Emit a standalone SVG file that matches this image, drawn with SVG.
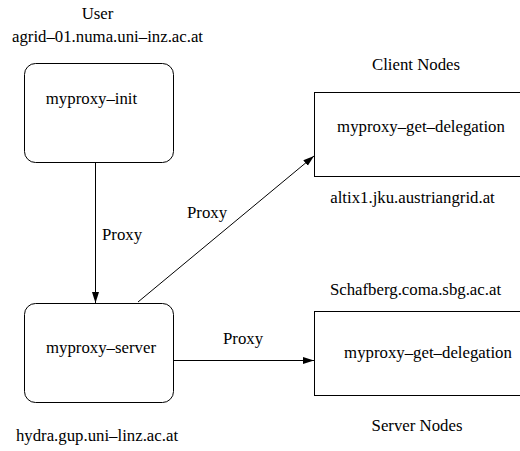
<svg xmlns="http://www.w3.org/2000/svg" width="520" height="451" viewBox="0 0 520 451">
  <style>
    text { font-family: "Liberation Serif", "Times New Roman", serif; font-size: 16.8px; fill: #000; }
    .box { fill: #fff; stroke: #000; stroke-width: 1; }
    .edge { fill: none; stroke: #000; stroke-width: 1; }
  </style>
  <defs>
    <marker id="arrow" viewBox="0 0 10 10" refX="10" refY="5" markerWidth="11" markerHeight="11" markerUnits="userSpaceOnUse" orient="auto">
      <path d="M0,1.8 L10,5 L0,8.2 Z" fill="#000"/>
    </marker>
  </defs>
  <rect width="520" height="451" fill="#fff"/>

  <g id="connectors">
    <line class="edge" x1="95.5" y1="162" x2="95.5" y2="303" marker-end="url(#arrow)"/>
    <line class="edge" x1="138" y1="302" x2="314" y2="156" marker-end="url(#arrow)"/>
    <line class="edge" x1="173" y1="360.5" x2="314" y2="360.5" marker-end="url(#arrow)"/>
    <text x="102" y="240">Proxy</text>
    <text x="187" y="218">Proxy</text>
    <text x="223" y="344">Proxy</text>
  </g>

  <g id="user">
    <text x="97.5" y="19" text-anchor="middle">User</text>
    <text x="107.5" y="42" text-anchor="middle">agrid–01.numa.uni–inz.ac.at</text>
    <rect class="box" x="24.5" y="63.5" width="149" height="99" rx="11"/>
    <text x="91.5" y="104" text-anchor="middle">myproxy–init</text>
  </g>

  <g id="server">
    <rect class="box" x="24.5" y="303.5" width="149" height="99" rx="11"/>
    <text x="101" y="353" text-anchor="middle">myproxy–server</text>
    <text x="97" y="441" text-anchor="middle">hydra.gup.uni–linz.ac.at</text>
  </g>

  <g id="client-nodes">
    <text x="416" y="70" text-anchor="middle">Client Nodes</text>
    <rect class="box" x="314.5" y="92.5" width="210" height="84"/>
    <text x="421" y="132" text-anchor="middle">myproxy–get–delegation</text>
    <text x="412.5" y="203" text-anchor="middle">altix1.jku.austriangrid.at</text>
  </g>

  <g id="server-nodes">
    <text x="415.5" y="295" text-anchor="middle">Schafberg.coma.sbg.ac.at</text>
    <rect class="box" x="314.5" y="311.5" width="210" height="84"/>
    <text x="428" y="358" text-anchor="middle">myproxy–get–delegation</text>
    <text x="417" y="431" text-anchor="middle">Server Nodes</text>
  </g>
</svg>
